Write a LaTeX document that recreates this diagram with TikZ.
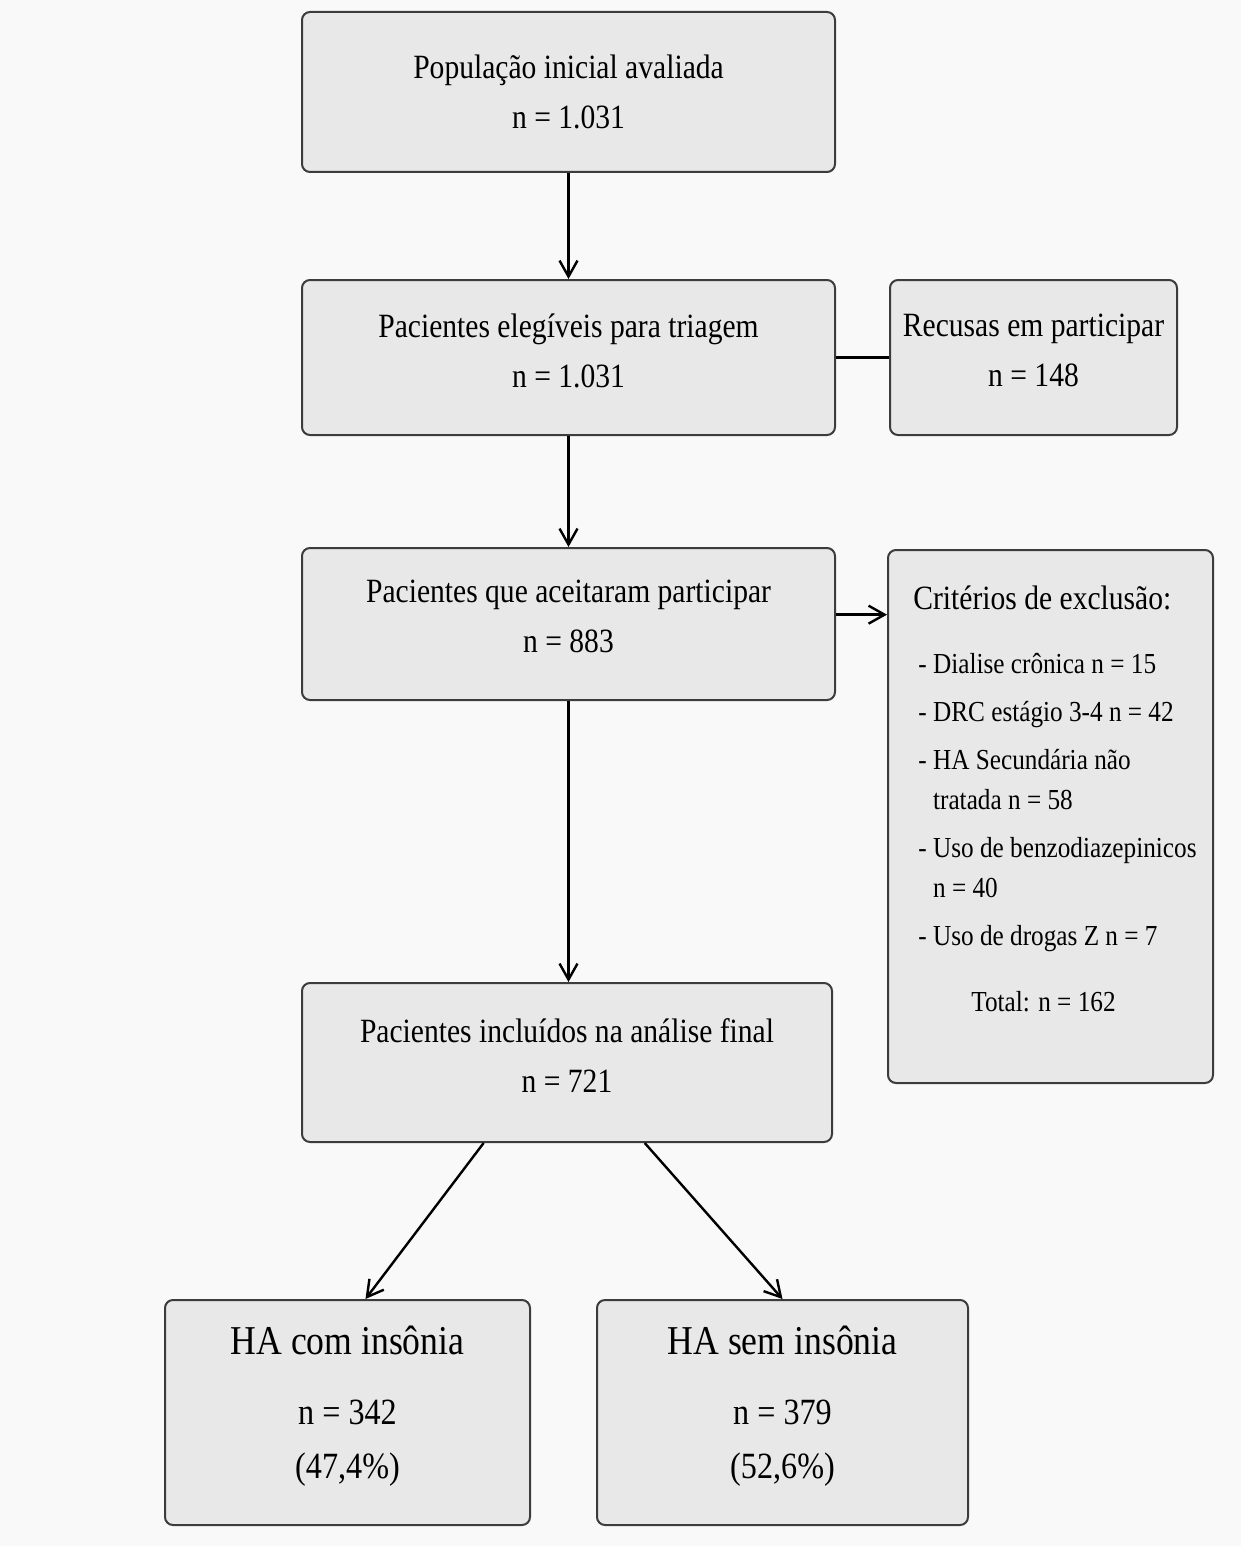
\documentclass[tikz,border=0pt]{standalone}
\usepackage{fontspec}
\setmainfont{Liberation Serif}[FakeStretch=0.87]
\usetikzlibrary{arrows.meta}
\definecolor{boxfill}{RGB}{232,232,232}
\definecolor{boxline}{RGB}{60,60,60}
\definecolor{paper}{RGB}{249,249,249}

\begin{document}
\begin{tikzpicture}[x=0.5pt,y=-0.5pt,
    caixa/.style={draw=boxline,fill=boxfill,line width=1pt,rounded corners=4pt,
        align=center,inner sep=0pt,font=\fontsize{17}{25}\selectfont},
    seta/.style={line width=1.2pt,-{Straight Barb[length=8pt,width=9pt]}},
    liga/.style={line width=1.2pt}]

\fill[paper] (0,0) rectangle (1241,1546);
\useasboundingbox (0,0) rectangle (1241,1546);

% caixas principais
\node[caixa,minimum width=266.5pt,minimum height=80pt] (pop) at (568.5,92)
    {População inicial avaliada\\ n = 1.031};
\node[caixa,minimum width=266.5pt,minimum height=77.5pt,text depth=7pt] (eleg) at (568.5,357.5)
    {Pacientes elegíveis para triagem\\ n = 1.031};
\node[caixa,minimum width=143.5pt,minimum height=77.5pt,text depth=7pt] (recusa) at (1033.5,357.5)
    {Recusas em participar\\ n = 148};
\node[caixa,minimum width=266.5pt,minimum height=76pt,text depth=8pt] (aceit) at (568.5,624)
    {Pacientes que aceitaram participar\\ n = 883};
\node[caixa,minimum width=162.5pt,minimum height=266.5pt] (excl) at (1050.5,816.5) {};
\node[anchor=north west,align=left,inner sep=0pt,
    font=\fontsize{14.5}{20}\selectfont] (excltxt) at (913,585)
    {{\fontsize{17}{20}\selectfont Critérios de exclusão:}\\[12pt]
     \hspace{2.5pt}- Dialise crônica n = 15\\[4pt]
     \hspace{2.5pt}- DRC estágio 3-4 n = 42\\[4pt]
     \hspace{2.5pt}- HA Secundária não\\
     \hspace{2.5pt}\phantom{- }tratada n = 58\\[4pt]
     \hspace{2.5pt}- Uso de benzodiazepinicos\\
     \hspace{2.5pt}\phantom{- }n = 40\\[4pt]
     \hspace{2.5pt}- Uso de drogas Z n = 7\\[13pt]
     \hspace{29pt}Total: n = 162};
\node[caixa,minimum width=265pt,minimum height=79.5pt,text depth=7pt] (incl) at (567,1062.5)
    {Pacientes incluídos na análise final\\ n = 721};

% grupos finais
\node[caixa,minimum width=182.5pt,minimum height=112.5pt,text depth=10pt,
    font=\fontsize{18.5}{27}\selectfont] (com) at (347.5,1412.5)
    {{\fontsize{20.5}{27}\selectfont HA com insônia}\\[8pt] n = 342\\ (47,4\%)};
\node[caixa,minimum width=185.5pt,minimum height=112.5pt,text depth=10pt,
    font=\fontsize{18.5}{27}\selectfont] (sem) at (782.5,1412.5)
    {{\fontsize{20.5}{27}\selectfont HA sem insônia}\\[8pt] n = 379\\ (52,6\%)};

\draw[seta] (pop) -- (eleg);
\draw[liga] (eleg) -- (recusa);
\draw[seta] (eleg) -- (aceit);
\draw[seta] (aceit.2.6) -- (aceit.2.6 -| excl.west);
\draw[seta] (aceit) -- (aceit |- incl.north);
\draw[seta] (incl.224) -- (com.81);
\draw[seta] (incl.314.5) -- (sem.north);
\end{tikzpicture}
\end{document}
